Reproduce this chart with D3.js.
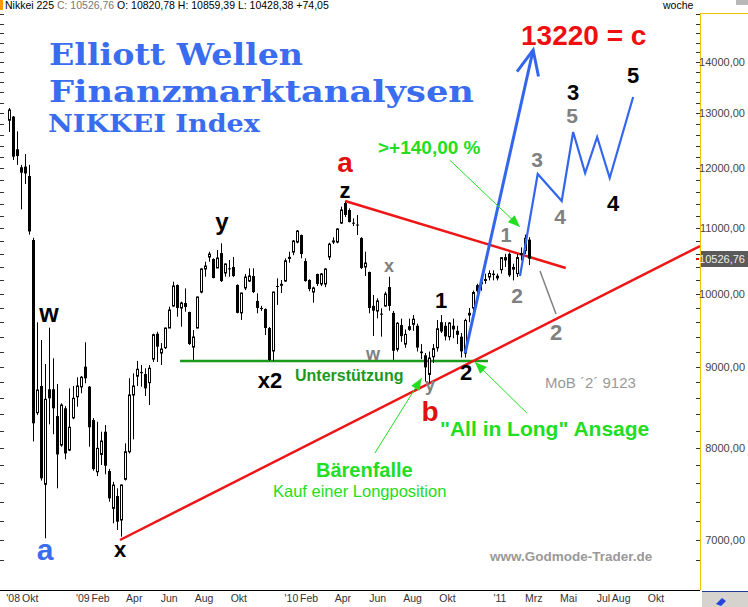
<!DOCTYPE html>
<html>
<head>
<meta charset="utf-8">
<script src="https://cdnjs.cloudflare.com/ajax/libs/d3/7.8.5/d3.min.js"></script>
<style>
body { margin: 0; background: #fff; }
svg text { font-family: "Liberation Sans", Arial, sans-serif; }
svg text.title { font-family: "DejaVu Serif", serif; }
</style>
</head>
<body>
<div class="canvas"></div>
<script>
// weekly Nikkei 225 candles, first week starts Mon 25 Aug 2008
const firstWeek = new Date(2008, 7, 25);

const opens = [12866,12934,12336,12018,12030,11867,10815,8419,8752,7589,8710,8710,8378,8033,8473,7975,8357,8617,8740,9000,
  8743,8330,7728,7925,8190,7736,7329,7461,7206,7644,7956,8638,8877,8930,8905,8794,9100,9441,9180,9252,
  9519,9828,10132,9800,9871,9743,9260,9519,10029,10370,10552,10521,10385,10612,10310,10380,10400,10132,9731,10088,
  10190,10265,9900,9800,9785,9519,9207,10117,10140,10190,10530,10627,10783,10893,10490,10205,10029,10295,10147,10147,
  10552,10790,10783,11084,11410,11296,11090,11060,10846,10400,10325,9830,9757,9720,9828,10102,9730,9230,9560,9300,
  9500,9570,9550,9200,9150,8900,9130,9250,9600,9550,9400,9550,9480,9400,9180,9700,9800,10130,10150,10200,
  10250,10300,10270,10360,10550,10600,10400,10300,10600,10650,10820.78];
const highs = [13097,12945,12660,12060,12250,12060,10850,9598,9355,9035,9524,9110,8777,8534,8500,8722,8752,8863,8880,9324,
  8750,8354,8310,8190,8270,7760,7617,7545,7589,8053,8850,8914,9075,9022,8979,9022,9441,9468,9314,9525,
  9818,10180,10140,9890,10082,9747,9492,9962,10380,10480,10633,10531,10659,10763,10455,10506,10552,10142,10019,10295,
  10380,10380,10010,9830,9795,9533,10034,10230,10205,10531,10633,10815,10973,10900,10531,10216,10107,10300,10310,10380,
  10773,10857,11000,11351,11433,11323,11160,11214,10860,10633,10330,9986,9938,9795,10034,10254,9757,9600,9650,9500,
  9650,9700,9580,9300,9180,9200,9300,9630,9700,9600,9600,9650,9550,9450,9650,9800,10050,10150,10250,10300,
  10350,10350,10300,10550,10600,10620,10450,10600,10700,10900,10859.39];
const lows = [12648,12145,12060,11307,11730,10900,8075,8390,7630,7017,8278,8160,7545,8014,7869,7963,8340,8493,8660,8786,
  8014,7740,7680,7804,7699,7400,7171,7102,7034,7630,7937,8100,8752,8743,8625,8513,9062,9062,9022,9234,
  9519,9818,9677,9537,9747,9288,9088,9515,10010,10254,10480,10230,10385,10176,10254,10254,10250,9724,9630,10058,
  10176,10014,9724,9757,9423,9076,9076,9843,10014,10180,10465,10580,10763,10531,10180,10040,9875,10117,10117,10100,
  10506,10752,10763,11069,11182,11095,11036,10894,10370,10265,9724,9410,9653,9401,9818,9761,9090,9200,9330,9250,
  9480,9480,9200,9100,8807,8796,9050,9200,9450,9350,9350,9380,9300,9120,9120,9600,9750,9950,10050,10150,
  10200,10200,10200,10300,10400,10250,10200,10250,10500,10600,10428.38];
const closes = [13059,12204,12215,11924,11910,10950,8291,8701,7655,8584,8597,8473,7925,8513,7936,8243,8597,8752,8863,8850,
  8243,7758,7995,8080,7796,7436,7580,7188,7581,7956,8638,8752,8966,8915,8722,8979,9427,9265,9234,9519,
  9771,10117,9800,9871,9814,9301,9396,9957,10370,10415,10597,10235,10536,10190,10445,10370,10265,9731,10014,10250,
  10265,10029,9800,9785,9519,9088,10029,10107,10142,10494,10546,10799,10957,10597,10190,10073,10088,10147,10295,10370,
  10750,10800,10989,11296,11215,11100,11080,11052,10385,10460,9800,9762,9900,9705,10000,9828,9210,9585,9408,9431,
  9537,9642,9253,9179,8991,9114,9239,9509,9471,9404,9588,9500,9426,9202,9625,9724,10022,10040,10178,10212,
  10303,10279,10229,10541,10499,10275,10360,10543,10605,10842,10526.76];

const priceLabels = [14000, 13000, 12000, 11000, 10000, 9000, 8000, 7000];
const lastClose = 10526.76;

const monthTicks = [
  ["2008-08-20", "'08"], ["2008-10-01", "Okt"], ["2009-01-01", "'09"], ["2009-02-01", "Feb"],
  ["2009-04-01", "Apr"], ["2009-06-01", "Jun"], ["2009-08-01", "Aug"], ["2009-10-01", "Okt"],
  ["2010-01-01", "'10"], ["2010-02-01", "Feb"], ["2010-04-01", "Apr"], ["2010-06-01", "Jun"],
  ["2010-08-01", "Aug"], ["2010-10-01", "Okt"], ["2011-01-01", "'11"], ["2011-03-01", "Mrz"],
  ["2011-05-01", "Mai"], ["2011-07-01", "Jul"], ["2011-08-01", "Aug"], ["2011-10-01", "Okt"]
];

// drawn trend lines and projections, as [date, index level]
const supportLine = [["2009-03-07", 7000], ["2011-12-17", 10721]];
const resistanceLine = [["2010-04-05", 11445], ["2011-04-26", 10385]];
const floorLine = [["2009-06-20", 9075], ["2010-12-11", 9075]];
const targetArrow = [["2010-11-01", 9180], ["2011-02-28", 14246]];
const wavePath = [["2011-02-05", 10265], ["2011-03-08", 11902], ["2011-04-19", 11445], ["2011-05-09", 12649],
  ["2011-05-30", 11919], ["2011-06-20", 12557], ["2011-07-12", 11833], ["2011-08-22", 13308]];
const pullbackLine = [["2011-03-12", 10340], ["2011-04-09", 9715]];
const gainArrow = [["2010-10-05", 12145], ["2011-02-05", 11021]];
const longArrow = [["2011-02-17", 8415], ["2010-11-18", 9062]];
const trapArrow = [["2010-05-27", 7940], ["2010-08-17", 8854]];

const width = 748, height = 607;
const plotRight = 700, plotTop = 13, plotBottom = 590;
const parse = d3.timeParse("%Y-%m-%d");

const svg = d3.select(".canvas")
  .append("svg")
  .attr("width", width)
  .attr("height", height);

svg.append("rect").attr("width", width).attr("height", height).attr("fill", "#fff");

const x = d3.scaleTime()
  .domain([new Date(2008, 7, 9), new Date(2011, 11, 17)])
  .range([0, plotRight]);
const y = d3.scaleLog()
  .domain([7000, 14000])
  .range([540, 62]);

const candles = opens.map((o, i) => ({
  date: d3.timeDay.offset(firstWeek, 7 * i),
  open: o, high: highs[i], low: lows[i], close: closes[i]
}));

svg.append("clipPath").attr("id", "plot")
  .append("rect").attr("x", 0).attr("y", plotTop).attr("width", plotRight).attr("height", plotBottom - plotTop);

const graph = svg.append("g").attr("clip-path", "url(#plot)");

// title
const title = svg.append("g")
  .attr("font-weight", "bold")
  .attr("fill", "#3a6cf0");
title.append("text").attr("class", "title").attr("x", 49).attr("y", 65).attr("font-size", 30)
  .attr("textLength", 254).attr("lengthAdjust", "spacingAndGlyphs").text("Elliott Wellen");
title.append("text").attr("class", "title").attr("x", 49).attr("y", 102).attr("font-size", 30)
  .attr("textLength", 425).attr("lengthAdjust", "spacingAndGlyphs").text("Finanzmarktanalysen");
title.append("text").attr("class", "title").attr("x", 48).attr("y", 132).attr("font-size", 24)
  .attr("textLength", 212).attr("lengthAdjust", "spacingAndGlyphs").text("NIKKEI Index");

const line = d3.line().x(d => x(parse(d[0]))).y(d => y(d[1]));

// support / resistance
graph.append("path").attr("d", line(floorLine)).attr("stroke", "#1a9a1a").attr("stroke-width", 2.5).attr("fill", "none");
graph.append("path").attr("d", line(supportLine)).attr("stroke", "#ee1515").attr("stroke-width", 2.5).attr("fill", "none");
graph.append("path").attr("d", line(resistanceLine)).attr("stroke", "#ee1515").attr("stroke-width", 2.5).attr("fill", "none");

// candles
const cx = d => Math.round(x(d.date));
graph.selectAll("line.wick")
  .data(candles)
  .enter()
  .append("line")
  .attr("x1", d => cx(d) + 0.5).attr("x2", d => cx(d) + 0.5)
  .attr("y1", d => y(d.high)).attr("y2", d => y(d.low))
  .attr("stroke", "#000").attr("stroke-width", 1);

graph.selectAll("rect.body")
  .data(candles)
  .enter()
  .append("rect")
  .attr("x", d => d.close >= d.open ? cx(d) - 0.5 : cx(d) - 1)
  .attr("width", d => d.close >= d.open ? 2 : 3)
  .attr("y", d => y(Math.max(d.open, d.close)))
  .attr("height", d => Math.max(1, Math.abs(y(d.open) - y(d.close))))
  .attr("fill", d => d.close >= d.open ? "#fff" : "#000")
  .attr("stroke", d => d.close >= d.open ? "#000" : "none")
  .attr("stroke-width", 1);

// elliott projections
graph.append("path").attr("d", line(pullbackLine)).attr("stroke", "#808080").attr("stroke-width", 1.5).attr("fill", "none");
graph.append("path").attr("d", line(wavePath)).attr("stroke", "#3366ee").attr("stroke-width", 2.2)
  .attr("fill", "none").attr("stroke-linejoin", "miter");
graph.append("path").attr("d", line(targetArrow)).attr("stroke", "#3366ee").attr("stroke-width", 3).attr("fill", "none");

const headPoints = (pts, len, spread) => {
  const x1 = x(parse(pts[0][0])), y1 = y(pts[0][1]);
  const x2 = x(parse(pts[1][0])), y2 = y(pts[1][1]);
  const a = Math.atan2(y1 - y2, x1 - x2);
  return [
    [x2 + len * Math.cos(a + spread), y2 + len * Math.sin(a + spread)],
    [x2, y2],
    [x2 + len * Math.cos(a - spread), y2 + len * Math.sin(a - spread)]
  ];
};

graph.append("path")
  .attr("d", d3.line()(headPoints(targetArrow, 27, 0.42)))
  .attr("stroke", "#3366ee").attr("stroke-width", 3).attr("fill", "none");

// thin green pointer arrows
[gainArrow, longArrow, trapArrow].forEach(a => {
  graph.append("path").attr("d", line(a)).attr("stroke", "#22dd22").attr("stroke-width", 1).attr("fill", "none");
  graph.append("path").attr("d", d3.line()(headPoints(a, 13, 0.38)) + "Z").attr("fill", "#22dd22");
});

// right price axis
const axisG = svg.append("g");
axisG.append("line").attr("x1", plotRight + 0.5).attr("x2", plotRight + 0.5).attr("y1", plotTop).attr("y2", plotBottom)
  .attr("stroke", "#f2c200").attr("stroke-width", 1);
axisG.append("line").attr("x1", plotRight).attr("x2", width).attr("y1", plotTop + 0.5).attr("y2", plotTop + 0.5)
  .attr("stroke", "#f2c200").attr("stroke-width", 1);

const minorTicks = d3.range(6800, 15001, 200).filter(v => y(v) > plotTop && y(v) < plotBottom);
axisG.selectAll("line.rt").data(minorTicks).enter().append("line")
  .attr("x1", plotRight - 4).attr("x2", plotRight)
  .attr("y1", d => Math.round(y(d)) + 0.5).attr("y2", d => Math.round(y(d)) + 0.5)
  .attr("stroke", "#333");
axisG.selectAll("line.lt").data(minorTicks).enter().append("line")
  .attr("x1", 0).attr("x2", 4)
  .attr("y1", d => Math.round(y(d)) + 0.5).attr("y2", d => Math.round(y(d)) + 0.5)
  .attr("stroke", "#333");

const fmt = v => d3.format(".2f")(v).replace(".", ",");
axisG.selectAll("text.price").data(priceLabels).enter().append("text")
  .attr("x", 745).attr("y", d => y(d) + 4)
  .attr("text-anchor", "end").attr("font-size", 11).attr("fill", "#444")
  .text(d => fmt(d));

axisG.append("rect").attr("x", 701).attr("y", Math.round(y(lastClose)) - 8).attr("width", 47).attr("height", 16)
  .attr("fill", "#5a5a5a");
axisG.append("text").attr("x", 745).attr("y", y(lastClose) + 4).attr("text-anchor", "end")
  .attr("font-size", 11).attr("fill", "#f0f0f0").text(fmt(lastClose));
axisG.append("rect").attr("x", 696).attr("y", Math.round(y(lastClose)) - 1).attr("width", 3).attr("height", 2).attr("fill", "#e00");

// bottom time axis
svg.append("line").attr("x1", 0).attr("x2", plotRight).attr("y1", plotBottom + 0.5).attr("y2", plotBottom + 0.5)
  .attr("stroke", "#000");
svg.selectAll("text.month").data(monthTicks).enter().append("text")
  .attr("x", d => x(parse(d[0])))
  .attr("y", 602)
  .attr("text-anchor", (d, i) => i === 0 ? "start" : "middle")
  .attr("font-size", 10.5).attr("fill", "#333")
  .text(d => d[1]);

// bottom right button and top bar
svg.append("rect").attr("x", 702).attr("y", 591).attr("width", 46).attr("height", 16).attr("fill", "#d6d3ce");
svg.append("line").attr("x1", 702).attr("x2", 748).attr("y1", 591.5).attr("y2", 591.5).attr("stroke", "#203a9a");
svg.append("path").attr("d", "M716,604 L722,598 L726,601 L721,606 Z").attr("fill", "#2244dd");
svg.append("rect").attr("x", 736).attr("y", 0).attr("width", 12).attr("height", 5).attr("fill", "#b8b8b8");
svg.append("rect").attr("x", 0).attr("y", 0).attr("width", 3).attr("height", 10).attr("fill", "#ff9a00");

const header = svg.append("text").attr("x", 5).attr("y", 9).attr("font-size", 10.5).attr("fill", "#000");
header.append("tspan").text("Nikkei 225 ");
header.append("tspan").attr("fill", "#777").text("C: 10526,76");
header.append("tspan").text(" O: 10820,78 H: 10859,39 L: 10428,38 +74,05");
svg.append("text").attr("x", 663).attr("y", 9).attr("font-size", 10.5).attr("fill", "#000").text("woche");

// wave counts and notes
const notes = [
  { t: "w", x: 49, y: 322, s: 25, c: "#000" },
  { t: "a", x: 45, y: 560, s: 30, c: "#3a6cf0" },
  { t: "x", x: 120, y: 557, s: 22, c: "#000" },
  { t: "y", x: 222, y: 230, s: 24, c: "#000" },
  { t: "x2", x: 270, y: 388, s: 22, c: "#000" },
  { t: "z", x: 345, y: 198, s: 22, c: "#000" },
  { t: "a", x: 345, y: 172, s: 28, c: "#e01010" },
  { t: "x", x: 389, y: 272, s: 18, c: "#808080" },
  { t: "w", x: 373, y: 360, s: 18, c: "#808080" },
  { t: "y", x: 430, y: 391, s: 18, c: "#808080" },
  { t: "b", x: 430, y: 421, s: 28, c: "#e01010" },
  { t: "1", x: 441, y: 308, s: 22, c: "#000" },
  { t: "2", x: 466, y: 380, s: 22, c: "#000" },
  { t: "1", x: 506, y: 242, s: 20, c: "#808080" },
  { t: "2", x: 517, y: 303, s: 21, c: "#808080" },
  { t: "2", x: 556, y: 340, s: 22, c: "#808080" },
  { t: "3", x: 537, y: 167, s: 21, c: "#808080" },
  { t: "4", x: 560, y: 224, s: 21, c: "#808080" },
  { t: "5", x: 572, y: 123, s: 21, c: "#808080" },
  { t: "3", x: 573, y: 100, s: 22, c: "#000" },
  { t: "4", x: 613, y: 211, s: 22, c: "#000" },
  { t: "5", x: 633, y: 83, s: 22, c: "#000" }
];
svg.selectAll("text.note").data(notes).enter().append("text")
  .attr("x", d => d.x).attr("y", d => d.y)
  .attr("text-anchor", "middle").attr("font-weight", "bold")
  .attr("font-size", d => d.s).attr("fill", d => d.c)
  .text(d => d.t);

const addText = (t, px, py, size, color, weight) => svg.append("text")
  .attr("x", px).attr("y", py).attr("font-size", size).attr("fill", color)
  .attr("font-weight", weight).text(t);

addText("13220 = c", 521, 45, 28, "#ee1010", "bold");
addText(">+140,00 %", 378, 154, 19, "#22dd22", "bold");
addText("Unterstützung", 295, 381, 16, "#1a9a1a", "bold");
addText("\"All in Long\" Ansage", 440, 436, 21, "#22dd22", "bold");
addText("Bärenfalle", 316, 477, 20, "#22dd22", "bold");
addText("Kauf einer Longposition", 273, 497, 16.5, "#22dd22", "normal");
addText("MoB ´2´ 9123", 545, 388, 15, "#999", "normal");
addText("www.Godmode-Trader.de", 490, 561, 13.5, "#999", "bold");
</script>
</body>
</html>
